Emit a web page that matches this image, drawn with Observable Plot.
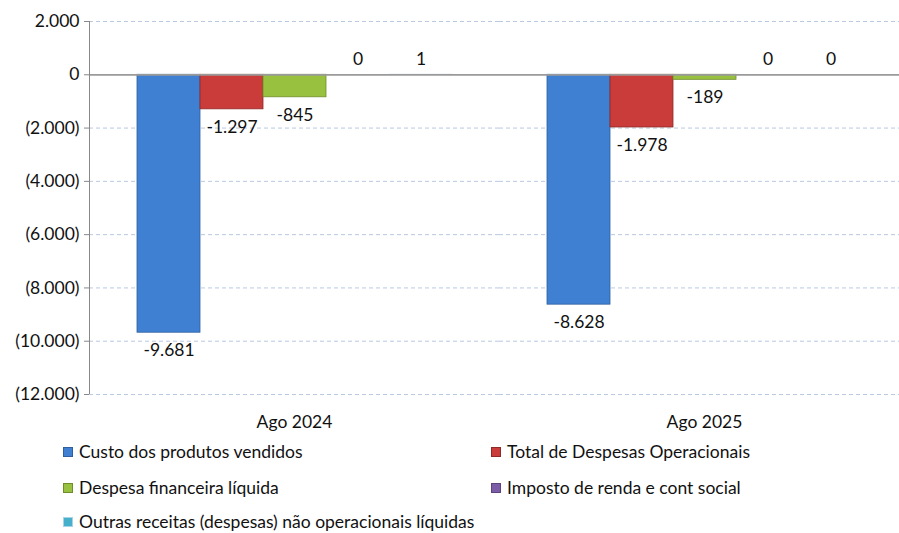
<!DOCTYPE html>
<html>
<head>
<meta charset="utf-8">
<script src="https://cdn.jsdelivr.net/npm/d3@7"></script>
<script src="https://cdn.jsdelivr.net/npm/@observablehq/plot@0.6"></script>
<style>
  body { margin: 0; background: #fff; font-family: Lato, "Open Sans", sans-serif; }
  #wrap { position: relative; width: 899px; height: 533px; overflow: hidden; }
  #legend { position: absolute; left: 0; top: 0; width: 899px; height: 533px; pointer-events: none; }
  .li { position: absolute; display: flex; align-items: center; font-size: 17.5px; color: #111; white-space: nowrap; }
  .sw { width: 10px; height: 10px; margin-right: 6px; box-sizing: border-box; }
</style>
</head>
<body>
<div id="wrap"><div id="chart"></div><div id="legend"></div></div>
<script>
const periods = ["Ago 2024", "Ago 2025"];
const series = [
  "Custo dos produtos vendidos",
  "Total de Despesas Operacionais",
  "Despesa financeira líquida",
  "Imposto de renda e cont social",
  "Outras receitas (despesas) não operacionais líquidas"
];
const values2024 = [-9681, -1297, -845, 0, 1];
const values2025 = [-8628, -1978, -189, 0, 0];
const colors = ["#3f80d3", "#c93c39", "#98c13f", "#7b5ca6", "#45afcc"];
const strokes = ["#2f5f9e", "#8e2a28", "#6f8d2c", "#5a437a", "#a9d4e3"];
const yTicks = [2000, 0, -2000, -4000, -6000, -8000, -10000, -12000];

const data = [];
periods.forEach((p, i) => {
  const vals = i === 0 ? values2024 : values2025;
  series.forEach((s, j) => data.push({period: p, series: s, value: vals[j]}));
});

const loc = d3.formatLocale({decimal: ",", thousands: ".", grouping: [3], currency: ["", ""], minus: "-"});
const fmt = loc.format(",d");
const tickFmt = d => d < 0 ? `(${fmt(-d)})` : fmt(d);

const facetW = 410;
const xPadOuter = 0.728;
const font = "Lato, 'Open Sans', sans-serif";

const chart = Plot.plot({
  width: 899,
  height: 435,
  marginLeft: 89,
  marginRight: 0,
  marginTop: 21,
  marginBottom: 41,
  style: {fontFamily: font, fontSize: "17.5px", color: "#111", background: "#fff", overflow: "hidden"},
  fx: {domain: periods, range: [89, 89 + 2 * facetW], paddingInner: 0, paddingOuter: 0, label: null},
  x: {domain: series, paddingInner: 0, paddingOuter: xPadOuter, axis: null},
  y: {domain: [-12000, 2000], label: null, axis: null},
  color: {domain: series, range: colors},
  marks: [
    Plot.ruleY(yTicks.filter(d => d !== 0), {stroke: "#b9c9e2", strokeDasharray: "4,3", strokeWidth: 1}),
    Plot.axisFx({anchor: "bottom", tickSize: 0, tickPadding: 21, fontSize: 17.5, label: null}),
    Plot.barY(data, {
      fx: "period", x: "series", y: "value",
      fill: "series",
      stroke: d => strokes[series.indexOf(d.series)],
      strokeWidth: 0.8
    }),
    Plot.ruleY([0], {stroke: "#9a9a9a", strokeWidth: 1.8}),
    Plot.text(data.filter(d => d.value < 0), {
      fx: "period", x: "series", y: "value",
      text: d => fmt(d.value),
      dy: 18,
      fontSize: 17.5, fill: "#111"
    }),
    Plot.text(data.filter(d => d.value >= 0), {
      fx: "period", x: "series", y: "value",
      text: d => fmt(d.value),
      dy: -15,
      fontSize: 17.5, fill: "#111"
    })
  ]
});
document.getElementById("chart").appendChild(chart);

// y axis drawn as a separate non-faceted overlay sharing the same y scale
const yAxis = Plot.plot({
  width: 899,
  height: 435,
  marginLeft: 89,
  marginRight: 0,
  marginTop: 21,
  marginBottom: 41,
  style: {fontFamily: font, fontSize: "17.5px", color: "#111", background: "transparent"},
  x: {domain: [0, 1], axis: null},
  y: {domain: [-12000, 2000], label: null, axis: null},
  marks: [
    Plot.axisY({ticks: yTicks, tickFormat: tickFmt, tickSize: 5, tickPadding: 5, fontSize: 17.5, stroke: "#888", label: null}),
    Plot.ruleX([0], {y1: -12000, y2: 2000, stroke: "#888"})
  ]
});
yAxis.style.position = "absolute";
yAxis.style.left = "0px";
yAxis.style.top = "0px";
document.getElementById("wrap").appendChild(yAxis);

// legend
const legend = document.getElementById("legend");
const pos = [[63, 453], [491, 453], [63, 489], [491, 489], [63, 523]];
series.forEach((s, i) => {
  const el = document.createElement("div");
  el.className = "li";
  el.style.left = pos[i][0] + "px";
  el.style.top = (pos[i][1] - 12) + "px";
  el.innerHTML = `<span class="sw" style="background:${colors[i]};border:1px solid ${strokes[i]}"></span><span>${s}</span>`;
  legend.appendChild(el);
});
</script>
</body>
</html>
